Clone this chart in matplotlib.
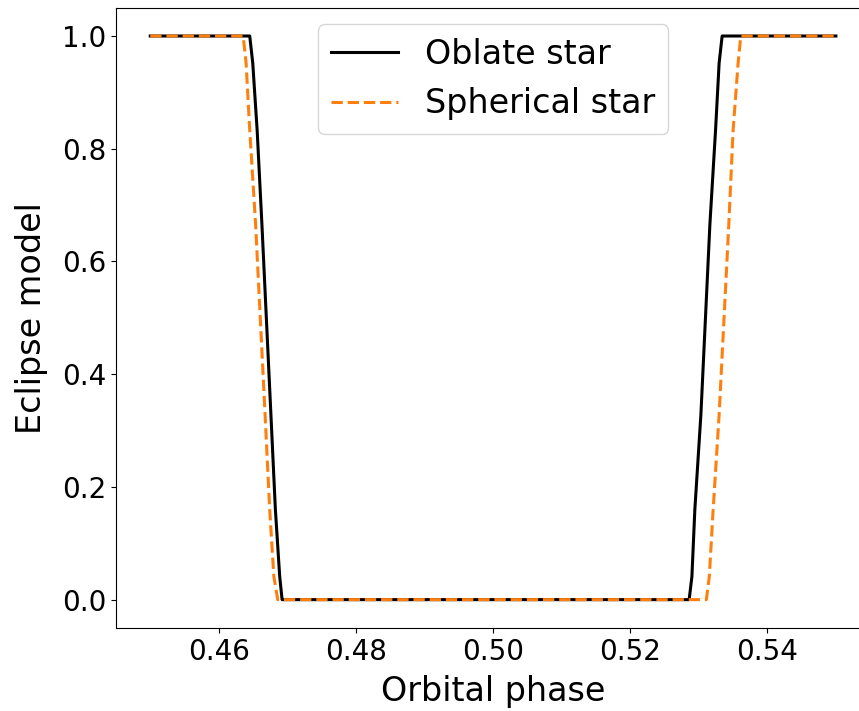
import matplotlib
matplotlib.use("Agg")
import matplotlib.pyplot as plt

# values
oblate_phase = [0.450, 0.46451, 0.46495, 0.46559, 0.46629, 0.46760, 0.46825, 0.46888, 0.46923,
                0.52860, 0.52900, 0.52943, 0.53031, 0.53162, 0.53245, 0.53297, 0.53341, 0.550]
oblate_flux = [1.0, 1.0, 0.952, 0.833, 0.665, 0.328, 0.160, 0.041, 0.0,
               0.0, 0.041, 0.160, 0.328, 0.665, 0.833, 0.952, 1.0, 1.0]

spherical_phase = [0.450, 0.46355, 0.46398, 0.46451, 0.46537, 0.46675, 0.46742, 0.46803, 0.46859,
                   0.53111, 0.53154, 0.53210, 0.53297, 0.53438, 0.53501, 0.53574, 0.53613, 0.550]
spherical_flux = [1.0, 1.0, 0.952, 0.833, 0.665, 0.328, 0.160, 0.041, 0.0,
                  0.0, 0.041, 0.160, 0.328, 0.665, 0.833, 0.952, 1.0, 1.0]

x_ticks = [0.46, 0.48, 0.50, 0.52, 0.54]
y_ticks = [0.0, 0.2, 0.4, 0.6, 0.8, 1.0]

fig, ax = plt.subplots(figsize=(8.59, 7.11), dpi=100)
# the original figure is cut off on the right, so the axes run past the edge
fig.subplots_adjust(left=0.135, right=1.013, top=0.989, bottom=0.117)

ax.plot(oblate_phase, oblate_flux, color='black', lw=2.2, label='Oblate star')
ax.plot(spherical_phase, spherical_flux, color='#ff7f0e', lw=2.2, ls='--', label='Spherical star')

ax.set_xticks(x_ticks)
ax.set_yticks(y_ticks)
ax.tick_params(labelsize=20)
ax.set_xlabel('Orbital phase', fontsize=24, labelpad=7)
ax.set_ylabel('Eclipse model', fontsize=24, labelpad=10)
ax.legend(loc='upper center', fontsize=24)

plt.savefig('out.png', dpi=100)
